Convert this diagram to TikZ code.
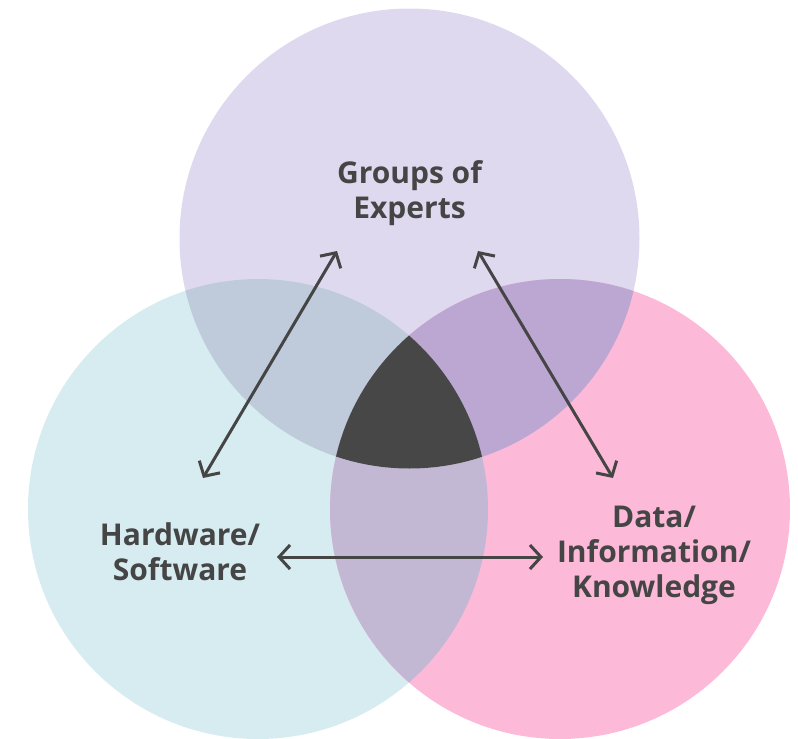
\documentclass[tikz,border=0pt]{standalone}
\usepackage{fontspec}
\setmainfont{Open Sans}
\usetikzlibrary{arrows.meta}
\definecolor{cPurple}{HTML}{DFD9F0}
\definecolor{cBlue}{HTML}{D6ECF1}
\definecolor{cPink}{HTML}{FDB9D8}
\definecolor{cBP}{HTML}{BFCADB}
\definecolor{cPPk}{HTML}{BBA7D2}
\definecolor{cBPk}{HTML}{C3B8D3}
\definecolor{cCore}{HTML}{474747}
\definecolor{cInk}{HTML}{454545}
\begin{document}
\begin{tikzpicture}[x=1pt,y=-1pt,
  lbl/.style={font=\fontsize{30}{35}\selectfont\bfseries, text=cInk, align=center, inner sep=0pt},
  dbl/.style={draw=cInk, line width=3pt, {Straight Barb[length=11pt,width=24pt,line width=3pt]}-{Straight Barb[length=11pt,width=24pt,line width=3pt]}}]
\useasboundingbox (0,0) rectangle (798,739);
\def\R{230}
\coordinate (cT) at (409.5,238.5);
\coordinate (cL) at (258,509);
\coordinate (cR) at (560,509);
% base circles
\fill[cPurple] (cT) circle (\R);
\fill[cBlue] (cL) circle (\R);
\fill[cPink] (cR) circle (\R);
% pairwise overlaps
\begin{scope}\clip (cT) circle (\R); \fill[cBP] (cL) circle (\R); \end{scope}
\begin{scope}\clip (cT) circle (\R); \fill[cPPk] (cR) circle (\R); \end{scope}
\begin{scope}\clip (cL) circle (\R); \fill[cBPk] (cR) circle (\R); \end{scope}
% triple overlap
\begin{scope}\clip (cT) circle (\R); \clip (cL) circle (\R); \fill[cCore] (cR) circle (\R); \end{scope}
% labels
\node[lbl] (experts) at (409.5,193) {Groups of\\Experts};
\node[lbl] (hw) at (180,552) {Hardware/\\Software};
\node[lbl] (data) at (654,555) {Data/\\Information/\\Knowledge};
% arrow ends
\coordinate (a1s) at (203,478);
\coordinate (a1e) at (337,251);
\coordinate (a2s) at (478,251);
\coordinate (a2e) at (613,478);
\coordinate (a3s) at (277,557);
\coordinate (a3e) at (543,557);
\draw[dbl] (a1s) -- (a1e);
\draw[dbl] (a2s) -- (a2e);
\draw[dbl] (a3s) -- (a3e);
\end{tikzpicture}
\end{document}
